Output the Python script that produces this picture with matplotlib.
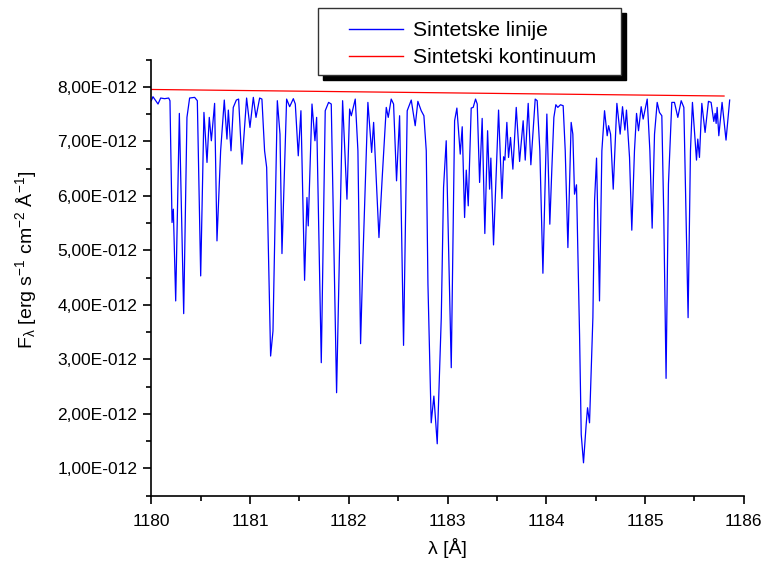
import numpy as np
import matplotlib
matplotlib.use("Agg")
import matplotlib.pyplot as plt
from matplotlib.ticker import FuncFormatter, MultipleLocator
from matplotlib.patches import Rectangle

plt.rcParams['font.family'] = ['Liberation Sans', 'DejaVu Sans']
plt.rcParams['mathtext.fontset'] = 'custom'
plt.rcParams['mathtext.rm'] = 'Liberation Sans'
plt.rcParams['mathtext.it'] = 'Liberation Sans:italic'
plt.rcParams['mathtext.default'] = 'regular'

# Synthetic spectrum (wavelength in Angstrom, flux in 1e-12 erg s-1 cm-2 A-1)
wavelength = [
    1180.001, 1180.018, 1180.069, 1180.096, 1180.136, 1180.177, 1180.190, 1180.211, 1180.224, 1180.248,
    1180.285, 1180.329, 1180.362, 1180.389, 1180.440, 1180.467, 1180.501, 1180.534, 1180.565, 1180.588,
    1180.609, 1180.642, 1180.666, 1180.703, 1180.740, 1180.767, 1180.781, 1180.808, 1180.831, 1180.862,
    1180.885, 1180.919, 1180.966,
    1181.000, 1181.034, 1181.061, 1181.098, 1181.121, 1181.148, 1181.169, 1181.209, 1181.233, 1181.277,
    1181.304, 1181.324, 1181.371, 1181.402, 1181.439, 1181.459, 1181.489, 1181.516, 1181.553, 1181.577,
    1181.590, 1181.628, 1181.658, 1181.675, 1181.722, 1181.762, 1181.796, 1181.823, 1181.877, 1181.938,
    1181.982,
    1182.009, 1182.026, 1182.066, 1182.093, 1182.120, 1182.144, 1182.194, 1182.232, 1182.252, 1182.306,
    1182.339, 1182.380, 1182.400, 1182.430, 1182.454, 1182.484, 1182.515, 1182.555, 1182.592, 1182.633,
    1182.673, 1182.700, 1182.734, 1182.761, 1182.785, 1182.802, 1182.835, 1182.862, 1182.896, 1182.937,
    1182.960, 1182.987,
    1183.038, 1183.072, 1183.095, 1183.129, 1183.149, 1183.173, 1183.190, 1183.210, 1183.240, 1183.260,
    1183.284, 1183.301, 1183.325, 1183.351, 1183.378, 1183.406, 1183.426, 1183.439, 1183.466, 1183.517,
    1183.551, 1183.568, 1183.581, 1183.601, 1183.618, 1183.638, 1183.662, 1183.696, 1183.730, 1183.766,
    1183.787, 1183.817, 1183.844, 1183.888, 1183.908, 1183.935, 1183.966, 1184.006,
    1184.036, 1184.057, 1184.077, 1184.097, 1184.117, 1184.144, 1184.171, 1184.192, 1184.219, 1184.252,
    1184.269, 1184.286, 1184.306, 1184.337, 1184.354, 1184.377, 1184.404, 1184.418, 1184.438, 1184.472,
    1184.489, 1184.509, 1184.539, 1184.563, 1184.590, 1184.617, 1184.631, 1184.651, 1184.678, 1184.715,
    1184.748, 1184.772, 1184.796, 1184.812, 1184.843, 1184.866, 1184.893, 1184.914, 1184.934, 1184.961,
    1184.981, 1185.022,
    1185.049, 1185.072, 1185.096, 1185.123, 1185.146, 1185.170, 1185.190, 1185.213, 1185.237, 1185.271,
    1185.298, 1185.332, 1185.366, 1185.393, 1185.416, 1185.436, 1185.460, 1185.480, 1185.521, 1185.534,
    1185.551, 1185.575, 1185.608, 1185.642, 1185.669, 1185.696, 1185.710, 1185.720, 1185.730, 1185.747,
    1185.780, 1185.820, 1185.857,
]
flux_lines = [
    7.744, 7.817, 7.683, 7.793, 7.781, 7.793, 7.744, 5.509, 5.754, 4.070,
    7.511, 3.837, 7.438, 7.793, 7.805, 7.744, 4.529, 7.529, 6.611, 7.438,
    7.009, 7.695, 5.172, 6.825, 7.756, 7.040, 7.572, 6.825, 7.621, 7.756,
    7.774, 6.580, 7.793,
    7.254, 7.805, 7.438, 7.793, 7.774, 6.825, 6.519, 3.059, 3.519, 7.744,
    7.131, 4.939, 7.774, 7.634, 7.781, 7.683, 6.733, 7.560, 4.449, 5.968,
    5.447, 7.683, 7.009, 7.438, 2.937, 7.560, 7.713, 7.683, 2.386, 7.744,
    5.937,
    7.591, 7.468, 7.774, 6.825, 3.286, 4.866, 7.713, 6.795, 7.346, 5.233,
    6.335, 7.621, 7.438, 7.774, 7.683, 6.274, 7.468, 3.255, 7.560, 7.756,
    7.285, 7.732, 7.560, 7.468, 6.825, 4.376, 1.834, 2.324, 1.449, 3.763,
    6.152, 7.009,
    2.845, 7.376, 7.609, 6.764, 7.266, 5.601, 6.470, 5.815, 7.609, 7.621,
    7.774, 7.683, 6.244, 7.419, 5.307, 7.193, 6.121, 6.691, 5.098, 7.572,
    5.950, 6.715, 6.654, 7.346, 6.703, 7.070, 6.488, 7.621, 6.629, 7.376,
    6.654, 7.695, 6.568, 7.774, 7.744, 6.825, 4.578, 7.499,
    5.478, 6.519, 7.438, 7.670, 7.621, 7.670, 7.652, 6.825, 5.049, 7.346,
    7.131, 6.029, 6.201, 3.457, 1.620, 1.100, 1.804, 2.110, 1.834, 3.763,
    5.907, 6.691, 4.070, 6.825, 7.560, 7.101, 7.285, 7.131, 6.121, 7.695,
    7.131, 7.634, 7.205, 7.572, 6.703, 5.368, 6.825, 7.511, 7.193, 7.634,
    7.407, 7.774,
    6.825, 5.405, 7.131, 7.713, 7.529, 7.468, 5.601, 2.649, 6.213, 7.713,
    7.713, 7.438, 7.744, 7.621, 5.601, 3.763, 6.825, 7.713, 6.654, 7.040,
    6.703, 7.695, 7.162, 7.732, 7.713, 7.364, 7.511, 7.327, 7.621, 7.101,
    7.713, 7.021, 7.756,
]
# Synthetic continuum
cont_wavelength = [1180.0, 1185.80]
cont_flux = [7.95, 7.83]

label_lines = "Sintetske linije"
label_cont = "Sintetski kontinuum"
xticks = [1180, 1181, 1182, 1183, 1184, 1185, 1186]
yticks = [1, 2, 3, 4, 5, 6, 7, 8]

scale = 1e-12
W, H = 765, 567
fig = plt.figure(figsize=(W / 100, H / 100), dpi=100)
ax_l, ax_r, ax_b, ax_t = 151.2, 743.8, 495.5, 59.5
ax = fig.add_axes([ax_l / W, 1 - ax_b / H, (ax_r - ax_l) / W, (ax_b - ax_t) / H])

l1, = ax.plot(wavelength, np.array(flux_lines) * scale, color='#0000ff', lw=0.9, label=label_lines)
l2, = ax.plot(cont_wavelength, np.array(cont_flux) * scale, color='#ff0000', lw=0.9, label=label_cont)

ax.set_xlim(1180, 1186)
ax.set_ylim(0.5e-12, 8.5e-12)
ax.set_xticks(xticks)
ax.set_yticks([v * scale for v in yticks])
ax.xaxis.set_minor_locator(MultipleLocator(0.5))
ax.yaxis.set_minor_locator(MultipleLocator(0.5e-12))
ax.yaxis.set_major_formatter(FuncFormatter(lambda v, p: f"{v / 1e-12:.2f}".replace('.', ',') + "E-012"))
ax.xaxis.set_major_formatter(FuncFormatter(lambda v, p: f"{v:.0f}"))

for s in ['top', 'right']:
    ax.spines[s].set_visible(False)
for s in ['left', 'bottom']:
    ax.spines[s].set_linewidth(1.2)
ax.tick_params(which='major', direction='out', length=6, width=1.2, labelsize=12.5, pad=4)
ax.tick_params(axis='x', which='major', pad=7)
ax.tick_params(which='minor', direction='out', length=3.5, width=1.2)

ax.set_xlabel('λ [Å]', fontsize=14)
ax.set_ylabel(r'F$_{\lambda}$ [erg s$^{-1}$ cm$^{-2}$ Å$^{-1}$]', fontsize=14)
ax.xaxis.set_label_coords(0.5, -0.098)
ax.yaxis.set_label_coords(-0.19, 0.54)

# legend frame with black shadow
bx0, by0, bx1, by1 = 318, 8, 621, 75
fig.add_artist(Rectangle(((bx0 + 5) / W, 1 - (by1 + 5) / H), (bx1 - bx0) / W, (by1 - by0) / H,
                         transform=fig.transFigure, facecolor='black', edgecolor='black', zorder=5))
fig.add_artist(Rectangle((bx0 / W, 1 - by1 / H), (bx1 - bx0) / W, (by1 - by0) / H,
                         transform=fig.transFigure, facecolor='white', edgecolor='#333333', lw=1, zorder=6))
leg = fig.legend(handles=[l1, l2], loc='upper left', bbox_to_anchor=(349 / W, 1 - 21 / H),
                 bbox_transform=fig.transFigure,
                 frameon=False, fontsize=15.2, handlelength=2.55, handletextpad=0.47,
                 borderpad=0, borderaxespad=0, labelspacing=0.38)
leg.set_zorder(7)
for line in leg.get_lines():
    line.set_linewidth(1.0)

fig.savefig('out.png', dpi=100)
